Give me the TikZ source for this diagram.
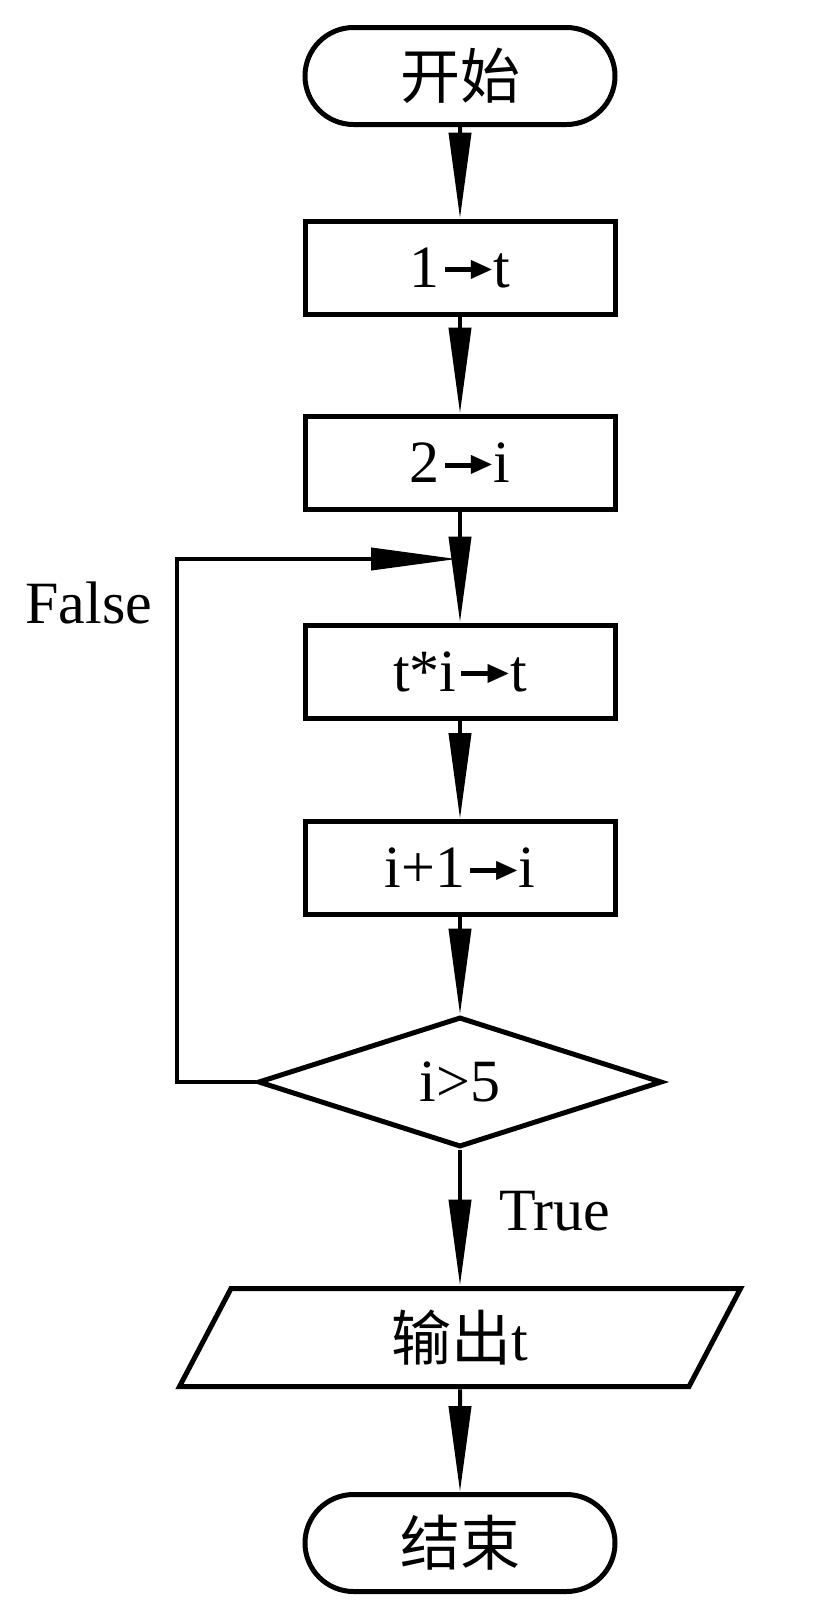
\documentclass[tikz,border=0pt]{standalone}
\usepackage{graphicx}
\usepackage{fontspec}
\setmainfont{Liberation Serif}
\newfontfamily\cjk{Noto Sans CJK SC}
\newfontfamily\dejavu{DejaVu Sans}
\newcommand\myarr{\kern0.08em\raisebox{0.08em}{$\vcenter{\hrule width 0.62em height 0.08em}\mkern-4mu\vcenter{\hbox{\scalebox{0.46}[0.42]{\dejavu ▶}}}$}\kern0.02em}
\usetikzlibrary{arrows.meta,shapes.geometric,shapes.misc}
\begin{document}
\begin{tikzpicture}[x=0.5pt,y=-0.5pt,
  every node/.style={font=\fontsize{30pt}{36pt}\selectfont, inner sep=0pt},
  stepbox/.style={draw, line width=2.5pt, rectangle, minimum width=155pt, minimum height=46.5pt},
  term/.style={draw, line width=2.5pt, rounded rectangle, minimum width=155pt, minimum height=48.5pt},
  decide/.style={draw, line width=2.5pt, diamond, minimum width=202pt, minimum height=65pt},
  iotext/.style={rectangle, minimum width=230pt, minimum height=51.5pt},
  ioshape/.style={draw, line width=2.5pt, line join=miter},
  conn/.style={line width=2pt, -{Triangle[length=43pt,width=11pt]}},
  lbl/.style={anchor=base west}
]
\useasboundingbox (0,0) rectangle (819,1608);
\node[term] (start) at (460,76) {\cjk 开始};
\node[stepbox] (r1) at (460,267.5) {1\myarr t};
\node[stepbox] (r2) at (460,462.5) {2\myarr i};
\node[stepbox] (r3) at (460,671.5) {t*i\myarr t};
\node[stepbox] (r4) at (460,868) {i+1\myarr i};
\node[decide] (dia) at (460,1082) {i>5};
\node[iotext] (out) at (460,1337.5) {{\cjk 输出}t};
\draw[ioshape] ([shift={(-229,-49)}]out.center) -- ([shift={(280.5,-49)}]out.center)
  -- ([shift={(229,49)}]out.center) -- ([shift={(-280.5,49)}]out.center) -- cycle;
\node[term] (stop) at (460,1543) {\cjk 结束};
\coordinate (join) at (457,559);
\coordinate (corner) at (177,1082);
\draw[conn] (start) -- (r1);
\draw[conn] (r1) -- (r2);
\draw[conn] (r2) -- (r3);
\draw[conn] (r3) -- (r4);
\draw[conn] (r4) -- (dia);
\draw[conn] (dia) -- (out);
\draw[conn] (out) -- (stop);
\draw[conn] (dia.west) -- (corner) |- (join);
\node[lbl] (false) at (25,623) {False};
\node[lbl] (true) at (499,1230) {True};
\end{tikzpicture}
\end{document}
